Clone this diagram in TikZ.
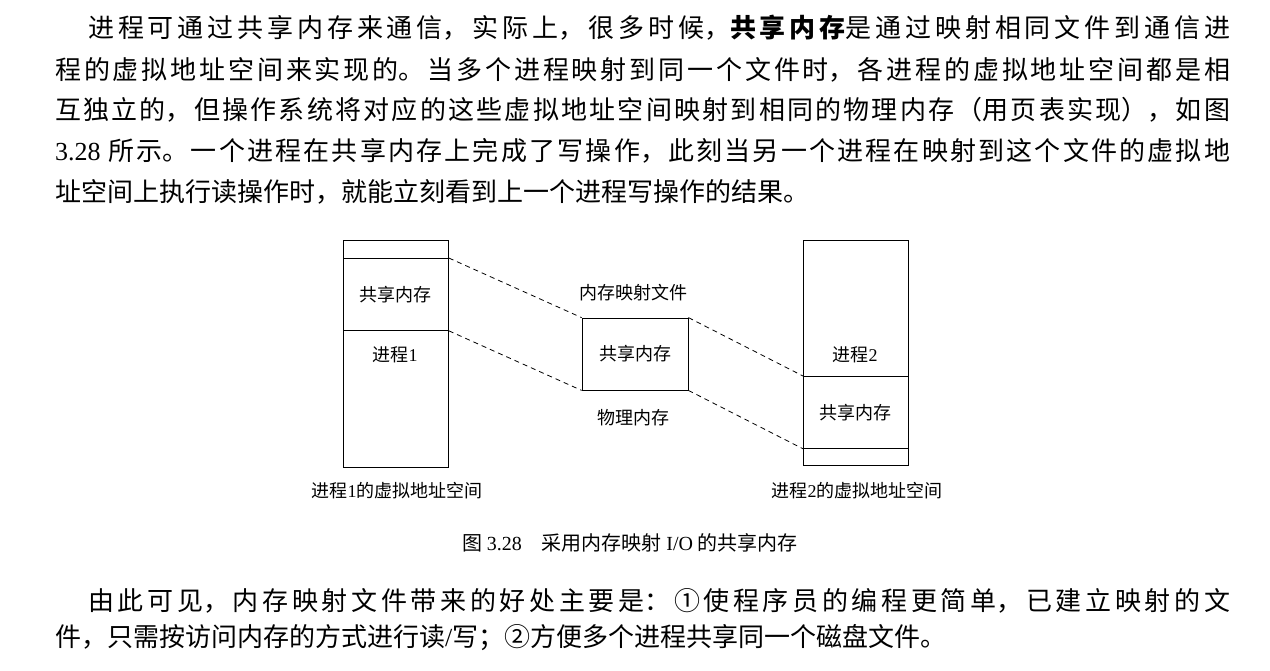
\documentclass[tikz,border=0pt]{standalone}
\usepackage{fontspec}
\setmainfont{Noto Sans CJK SC}
\newfontfamily\lat{Liberation Serif}
\usetikzlibrary{decorations.pathmorphing}
\begin{document}
\XeTeXlinebreaklocale "zh"
\XeTeXlinebreakskip=0pt plus 8pt
\newcommand\jl[2]{\parbox{#1}{\parfillskip=0pt\parindent=0pt\noindent #2}}
\begin{tikzpicture}[x=1pt,y=-1pt,
  body/.style={anchor=west,inner sep=0pt,font=\fontsize{26}{26}\selectfont},
  lab/.style={inner sep=0pt,font=\fontsize{18}{18}\selectfont},
  box/.style={draw,line width=0.8pt},
  dl/.style={dash pattern=on 5pt off 4pt,line width=0.8pt}]
\useasboundingbox (0,0) rectangle (1270,670);
\fill[white] (0,0) rectangle (1270,670);
% paragraph
\node[body] (p1) at (88,28) {\jl{1142pt}{进程可通过共享内存来通信，实际上，很多时候，\textbf{共享内存}是通过映射相同文件到通信进}};
\node[body] (p2) at (55,70) {\jl{1175pt}{程的虚拟地址空间来实现的。当多个进程映射到同一个文件时，各进程的虚拟地址空间都是相}};
\node[body] (p3) at (55,110) {\jl{1175pt}{互独立的，但操作系统将对应的这些虚拟地址空间映射到相同的物理内存（用页表实现），如图}};
\node[body] (p4) at (55,151) {\jl{1175pt}{{\lat 3.28}\hspace{0.3em}所示。一个进程在共享内存上完成了写操作，此刻当另一个进程在映射到这个文件的虚拟地}};
\node[body] (p5) at (55,192) {址空间上执行读操作时，就能立刻看到上一个进程写操作的结果。};
% left
\node[box,minimum width=105pt,minimum height=18pt,anchor=north west] (ltop) at (343,240) {};
\node[box,minimum width=105pt,minimum height=72pt,anchor=north west,lab] (lsh) at (343,258) {共享内存};
\node[box,minimum width=105pt,minimum height=137pt,anchor=north west] (lp) at (343,330) {};
\node[lab] (lpl) at (395,355) {进程{\lat 1}};
% right
\node[box,minimum width=105pt,minimum height=136pt,anchor=north west] (rp) at (803,240) {};
\node[lab] (rpl) at (855,355) {进程{\lat 2}};
\node[box,minimum width=105pt,minimum height=72pt,anchor=north west,lab] (rsh) at (803,376) {共享内存};
\node[box,minimum width=105pt,minimum height=17pt,anchor=north west] (rbot) at (803,448) {};
% middle
\node[box,minimum width=106pt,minimum height=72pt,lab] (m) at (635,354) {共享内存};
\node[lab] (ml) at (633,293) {内存映射文件};
\node[lab] (pl) at (633,418) {物理内存};
\draw[dl] (lsh.north east) -- (m.north west);
\draw[dl] (lsh.south east) -- (m.south west);
\draw[dl] (m.north east) -- (rsh.north west);
\draw[dl] (m.south east) -- (rsh.south west);
\node[lab] (c1) at (397,491) {进程{\lat 1}的虚拟地址空间};
\node[lab] (c2) at (857,491) {进程{\lat 2}的虚拟地址空间};
\node[lab,font=\fontsize{20}{20}\selectfont] (cap) at (630,543) {图 {\lat 3.28}\quad 采用内存映射 {\lat I/O} 的共享内存};
% bottom
\node[body] (b1) at (88,601) {\jl{1142pt}{由此可见，内存映射文件带来的好处主要是：①使程序员的编程更简单，已建立映射的文}};
\node[body] (b2) at (55,638) {件，只需按访问内存的方式进行读{\lat /}写；②方便多个进程共享同一个磁盘文件。};
\end{tikzpicture}
\end{document}
